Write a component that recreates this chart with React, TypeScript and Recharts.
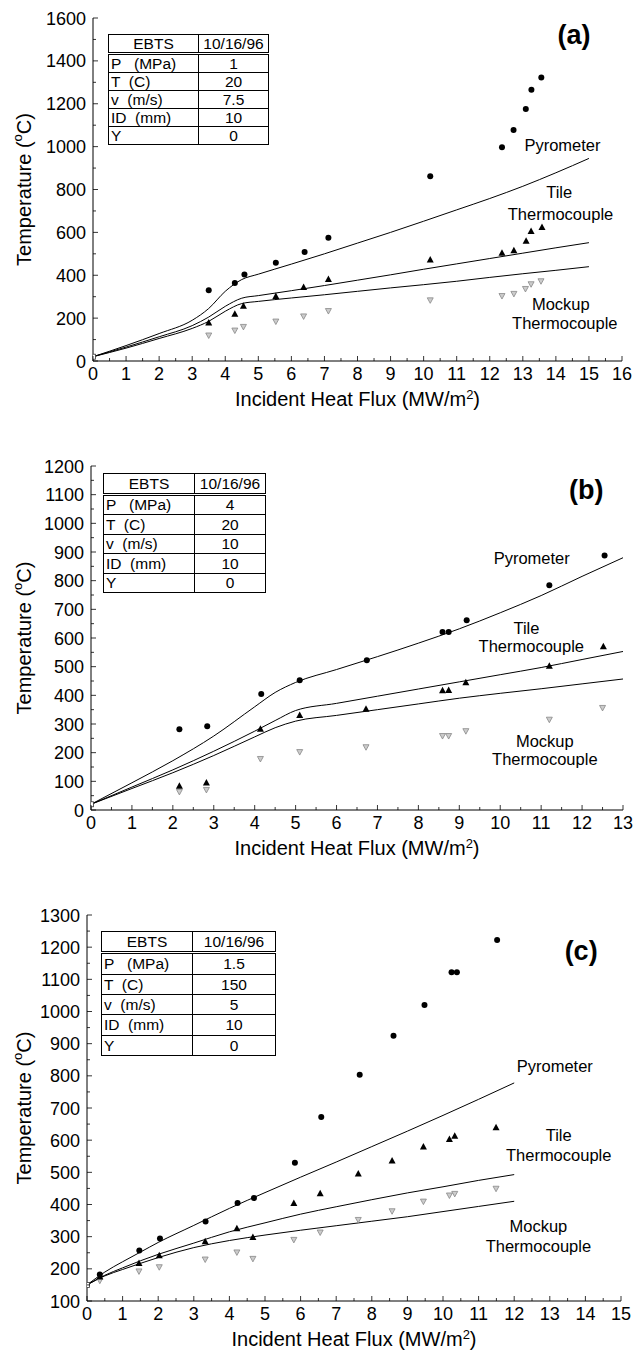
import React from "react";
import { ComposedChart, Line, Scatter, XAxis, YAxis, ReferenceDot } from "recharts";

// ---------- panel (a) ----------
const aFluxPyro = [3.5, 4.29, 4.58, 5.53, 6.4, 7.12, 10.2, 12.37, 12.72, 13.09, 13.26, 13.56];
const aPyro = [330, 364, 403, 458, 508, 575, 862, 997, 1078, 1176, 1265, 1322];
const aFluxTile = [3.5, 4.29, 4.55, 5.53, 6.37, 7.12, 10.2, 12.37, 12.73, 13.1, 13.25, 13.58];
const aTile = [180, 220, 258, 303, 345, 383, 473, 505, 517, 561, 606, 625];
const aFluxMock = [3.5, 4.29, 4.55, 5.53, 6.37, 7.12, 10.2, 12.37, 12.73, 13.08, 13.25, 13.55];
const aMock = [119, 142, 159, 184, 208, 233, 283, 303, 313, 336, 358, 372];
const aLineFlux = [0, 1, 2, 3, 3.5, 4, 4.5, 5, 6, 7, 8, 9, 10, 11, 12, 13, 14, 15];
const aPyroLine = [20, 72, 128, 190, 245, 325, 380, 405, 452, 500, 550, 600, 652, 705, 758, 815, 878, 945];
const aTileLine = [20, 65, 113, 165, 205, 255, 293, 305, 328, 352, 377, 402, 428, 453, 478, 503, 528, 552];
const aMockLine = [20, 60, 105, 152, 185, 232, 268, 278, 294, 309, 325, 341, 356, 372, 390, 407, 423, 440];
const aXTicks = [0, 1, 2, 3, 4, 5, 6, 7, 8, 9, 10, 11, 12, 13, 14, 15, 16];
const aYTicks = [0, 200, 400, 600, 800, 1000, 1200, 1400, 1600];
const aTable = [["EBTS", "10/16/96"], ["P   (MPa)", "1"], ["T  (C)", "20"], ["v  (m/s)", "7.5"], ["ID  (mm)", "10"], ["Y", "0"]];

// ---------- panel (b) ----------
const bFluxPyro = [2.16, 2.84, 4.16, 5.1, 6.74, 8.59, 8.74, 9.18, 11.2, 12.55];
const bPyro = [282, 292, 405, 453, 522, 621, 621, 662, 784, 888];
const bFluxTile = [2.16, 2.82, 4.14, 5.1, 6.72, 8.59, 8.74, 9.16, 11.2, 12.52];
const bTile = [85, 96, 283, 331, 353, 418, 419, 446, 503, 571];
const bFluxMock = [2.16, 2.82, 4.14, 5.1, 6.72, 8.59, 8.74, 9.16, 11.2, 12.5];
const bMock = [63, 70, 178, 202, 219, 258, 258, 275, 315, 356];
const bLineFlux = [0, 1, 2, 3, 4, 4.5, 5, 6, 7, 8, 9, 10, 11, 12, 13];
const bPyroLine = [20, 95, 172, 258, 360, 410, 445, 490, 535, 582, 632, 688, 748, 815, 880];
const bTileLine = [20, 80, 140, 205, 275, 312, 347, 372, 397, 422, 447, 472, 497, 525, 553];
const bMockLine = [20, 75, 130, 190, 255, 287, 310, 330, 350, 370, 390, 407, 423, 440, 457];
const bXTicks = [0, 1, 2, 3, 4, 5, 6, 7, 8, 9, 10, 11, 12, 13];
const bYTicks = [0, 100, 200, 300, 400, 500, 600, 700, 800, 900, 1000, 1100, 1200];
const bTable = [["EBTS", "10/16/96"], ["P   (MPa)", "4"], ["T  (C)", "20"], ["v  (m/s)", "10"], ["ID  (mm)", "10"], ["Y", "0"]];

// ---------- panel (c) ----------
const cFluxPyro = [0.36, 1.47, 2.05, 3.33, 4.23, 4.69, 5.84, 6.58, 7.66, 8.61, 9.48, 10.24, 10.39, 11.52];
const cPyro = [182, 257, 294, 347, 405, 420, 530, 672, 803, 925, 1020, 1122, 1122, 1222];
const cFluxTile = [0.36, 1.46, 2.03, 3.32, 4.21, 4.66, 5.81, 6.55, 7.62, 8.57, 9.45, 10.18, 10.33, 11.49];
const cTile = [176, 218, 242, 286, 326, 299, 405, 435, 496, 537, 580, 604, 614, 640];
const cFluxMock = [0.36, 1.46, 2.03, 3.32, 4.21, 4.66, 5.81, 6.55, 7.62, 8.57, 9.45, 10.18, 10.33, 11.49];
const cMock = [163, 192, 205, 229, 251, 231, 290, 313, 352, 379, 409, 428, 433, 449];
const cLineFlux = [0, 0.5, 1, 1.5, 2, 3, 4, 5, 6, 7, 8, 9, 10, 11, 12];
const cPyroLine = [150, 190, 222, 252, 282, 335, 388, 437, 485, 532, 580, 628, 677, 727, 778];
const cTileLine = [150, 180, 203, 225, 245, 280, 315, 343, 370, 393, 415, 436, 455, 475, 493];
const cMockLine = [150, 178, 198, 217, 235, 266, 288, 305, 320, 334, 348, 362, 378, 394, 410];
const cXTicks = [0, 1, 2, 3, 4, 5, 6, 7, 8, 9, 10, 11, 12, 13, 14, 15];
const cYTicks = [100, 200, 300, 400, 500, 600, 700, 800, 900, 1000, 1100, 1200, 1300];
const cTable = [["EBTS", "10/16/96"], ["P   (MPa)", "1.5"], ["T  (C)", "150"], ["v  (m/s)", "5"], ["ID  (mm)", "10"], ["Y", "0"]];

const FONT = "'Liberation Sans', Arial, sans-serif";

const zip = (xs: number[], ys: number[]) => xs.map((x, i) => ({ x, y: ys[i] }));
// major ticks plus the minor ones halfway between them
const withMinor = (t: number[]) => {
  const out: number[] = [];
  t.forEach((v, i) => {
    out.push(v);
    if (i < t.length - 1) out.push((v + t[i + 1]) / 2);
  });
  return out;
};

const Dot = ({ cx, cy }: any) => <circle cx={cx} cy={cy} r={3} fill="#000" />;
const Tri = ({ cx, cy }: any) => <path d={`M${cx},${cy - 3.5} L${cx + 3.5},${cy + 3} L${cx - 3.5},${cy + 3} Z`} fill="#000" />;
const InvTri = ({ cx, cy }: any) => (
  <path d={`M${cx},${cy + 3} L${cx + 3},${cy - 2.5} L${cx - 3},${cy - 2.5} Z`} fill="#ccc" stroke="#888" strokeWidth={0.8} />
);
const Square = ({ cx, cy }: any) => <rect x={cx - 2.5} y={cy - 2.5} width={5} height={5} fill="#fff" stroke="#333" strokeWidth={0.8} />;

const makeXTick = (majors: number[], bottom: boolean) => (props: any) => {
  const { x, y, payload } = props;
  const major = majors.includes(payload.value);
  const len = major ? 5 : 3;
  return (
    <g>
      <line x1={x} x2={x} y1={y} y2={bottom ? y - len : y + len} stroke="#000" strokeWidth={0.8} />
      {bottom && major && (
        <text x={x} y={y + 19} textAnchor="middle" fontSize={18} fontFamily={FONT} fill="#000">
          {payload.value}
        </text>
      )}
    </g>
  );
};

const makeYTick = (majors: number[], left: boolean) => (props: any) => {
  const { x, y, payload } = props;
  const major = majors.includes(payload.value);
  const len = major ? 5 : 3;
  return (
    <g>
      <line x1={x} x2={left ? x + len : x - len} y1={y} y2={y} stroke="#000" strokeWidth={0.8} />
      {left && major && (
        <text x={x - 7} y={y + 6.5} textAnchor="end" fontSize={18} fontFamily={FONT} fill="#000">
          {payload.value}
        </text>
      )}
    </g>
  );
};

const YTitle = ({ viewBox }: any) => {
  const cx = 24;
  const cy = viewBox.y + viewBox.height / 2;
  return (
    <text x={cx} y={cy} transform={`rotate(-90 ${cx} ${cy})`} textAnchor="middle" dominantBaseline="central" fontSize={20} fontFamily={FONT}>
      Temperature (<tspan dy={-7} fontSize={13}>o</tspan><tspan dy={7}>C)</tspan>
    </text>
  );
};

const XTitle = ({ viewBox }: any) => {
  const cx = viewBox.x + viewBox.width / 2;
  const cy = viewBox.y + 45;
  return (
    <text x={cx} y={cy} textAnchor="middle" fontSize={20} fontFamily={FONT}>
      Incident Heat Flux (MW/m<tspan dy={-7} fontSize={13}>2</tspan><tspan dy={7}>)</tspan>
    </text>
  );
};

const Note = ({ x, y, text, size = 16.5, bold = false }: any) => (
  <ReferenceDot
    x={x}
    y={y}
    r={0}
    fill="none"
    stroke="none"
    ifOverflow="visible"
    label={{ value: text, position: "center", fontSize: size, fontWeight: bold ? "bold" : "normal", fill: "#000", fontFamily: FONT }}
  />
);

const ParamTable = ({ rows, style, col1 }: any) => (
  <table
    style={{
      position: "absolute",
      borderCollapse: "collapse",
      fontFamily: FONT,
      fontSize: 15.5,
      lineHeight: 1,
      border: "1.5px solid #000",
      background: "#fff",
      ...style,
    }}
  >
    <tbody>
      {rows.map((r: string[], i: number) => (
        <tr key={i} style={{ borderBottom: i === 0 ? "3px double #000" : "1px solid #000" }}>
          <td style={{ width: col1, borderRight: "1px solid #000", padding: "0 2px", textAlign: i === 0 ? "center" : "left", whiteSpace: "pre" }}>{r[0]}</td>
          <td style={{ textAlign: "center", padding: 0 }}>{r[1]}</td>
        </tr>
      ))}
    </tbody>
  </table>
);

const Panel = ({ top, height, margin, yWidth, xHeight, xDomain, yDomain, xTicks, yTicks, pyro, tile, mock, lines, start, notes }: any) => {
  const xAll = withMinor(xTicks);
  const yAll = withMinor(yTicks);
  return (
    <div style={{ position: "absolute", left: 0, top }}>
      <ComposedChart width={634} height={height} margin={margin}>
        <XAxis
          type="number"
          dataKey="x"
          domain={xDomain}
          ticks={xAll}
          interval={0}
          allowDataOverflow
          height={xHeight}
          tickSize={0}
          tickMargin={0}
          tickLine={false}
          axisLine={{ stroke: "#000", strokeWidth: 1 }}
          tick={makeXTick(xTicks, true)}
          label={<XTitle />}
        />
        <XAxis
          xAxisId="top"
          orientation="top"
          type="number"
          dataKey="x"
          domain={xDomain}
          ticks={xAll}
          interval={0}
          allowDataOverflow
          height={0}
          tickSize={0}
          tickMargin={0}
          tickLine={false}
          axisLine={{ stroke: "#000", strokeWidth: 1 }}
          tick={makeXTick(xTicks, false)}
        />
        <YAxis
          type="number"
          domain={yDomain}
          ticks={yAll}
          interval={0}
          allowDataOverflow
          width={yWidth}
          tickSize={0}
          tickMargin={0}
          tickLine={false}
          axisLine={{ stroke: "#000", strokeWidth: 1 }}
          tick={makeYTick(yTicks, true)}
          label={<YTitle />}
        />
        <YAxis
          yAxisId="right"
          orientation="right"
          type="number"
          domain={yDomain}
          ticks={yAll}
          interval={0}
          allowDataOverflow
          width={0}
          tickSize={0}
          tickMargin={0}
          tickLine={false}
          axisLine={{ stroke: "#000", strokeWidth: 1 }}
          tick={makeYTick(yTicks, false)}
        />
        {lines.map((l: any, i: number) => (
          <Line key={i} data={l} dataKey="y" type="monotone" dot={false} stroke="#000" strokeWidth={1} isAnimationActive={false} />
        ))}
        <Scatter data={mock} dataKey="y" shape={<InvTri />} isAnimationActive={false} />
        <Scatter data={tile} dataKey="y" shape={<Tri />} isAnimationActive={false} />
        <Scatter data={pyro} dataKey="y" shape={<Dot />} isAnimationActive={false} />
        <Scatter data={start} dataKey="y" shape={<Square />} isAnimationActive={false} />
        {notes.map((n: any, i: number) => (
          <Note key={i} {...n} />
        ))}
      </ComposedChart>
    </div>
  );
};

export default function App() {
  return (
    <div style={{ position: "absolute", left: 0, top: 0, width: 634, height: 1357, background: "#fff", fontFamily: FONT }}>
      <Panel
        top={0}
        height={420}
        margin={{ top: 18, right: 12, left: 0, bottom: 0 }}
        yWidth={93}
        xHeight={59}
        xDomain={[0, 16]}
        yDomain={[0, 1600]}
        xTicks={aXTicks}
        yTicks={aYTicks}
        pyro={zip(aFluxPyro, aPyro)}
        tile={zip(aFluxTile, aTile)}
        mock={zip(aFluxMock, aMock)}
        lines={[zip(aLineFlux, aPyroLine), zip(aLineFlux, aTileLine), zip(aLineFlux, aMockLine)]}
        start={[{ x: 0, y: 20 }]}
        notes={[
          { x: 14.55, y: 1525, text: "(a)", size: 27, bold: true },
          { x: 14.2, y: 1009, text: "Pyrometer" },
          { x: 14.1, y: 788, text: "Tile" },
          { x: 14.14, y: 684, text: "Thermocouple" },
          { x: 14.15, y: 267, text: "Mockup" },
          { x: 14.27, y: 177, text: "Thermocouple" },
        ]}
      />
      <ParamTable rows={aTable} col1={85} style={{ left: 108, top: 34, width: 161, height: 111 }} />

      <Panel
        top={448}
        height={420}
        margin={{ top: 18, right: 11, left: 0, bottom: 0 }}
        yWidth={91}
        xHeight={58}
        xDomain={[0, 13]}
        yDomain={[0, 1200]}
        xTicks={bXTicks}
        yTicks={bYTicks}
        pyro={zip(bFluxPyro, bPyro)}
        tile={zip(bFluxTile, bTile)}
        mock={zip(bFluxMock, bMock)}
        lines={[zip(bLineFlux, bPyroLine), zip(bLineFlux, bTileLine), zip(bLineFlux, bMockLine)]}
        start={[{ x: 0, y: 20 }]}
        notes={[
          { x: 12.1, y: 1119, text: "(b)", size: 27, bold: true },
          { x: 10.77, y: 877, text: "Pyrometer" },
          { x: 10.64, y: 633, text: "Tile" },
          { x: 10.76, y: 571, text: "Thermocouple" },
          { x: 11.09, y: 241, text: "Mockup" },
          { x: 11.09, y: 177, text: "Thermocouple" },
        ]}
      />
      <ParamTable rows={bTable} col1={86} style={{ left: 103, top: 473, width: 163, height: 120 }} />

      <Panel
        top={897}
        height={460}
        margin={{ top: 18, right: 13, left: 0, bottom: 0 }}
        yWidth={87}
        xHeight={56}
        xDomain={[0, 15]}
        yDomain={[100, 1300]}
        xTicks={cXTicks}
        yTicks={cYTicks}
        pyro={zip(cFluxPyro, cPyro)}
        tile={zip(cFluxTile, cTile)}
        mock={zip(cFluxMock, cMock)}
        lines={[zip(cLineFlux, cPyroLine), zip(cLineFlux, cTileLine), zip(cLineFlux, cMockLine)]}
        start={[{ x: 0, y: 150 }]}
        notes={[
          { x: 13.88, y: 1189, text: "(c)", size: 27, bold: true },
          { x: 13.14, y: 831, text: "Pyrometer" },
          { x: 13.25, y: 616, text: "Tile" },
          { x: 13.25, y: 553, text: "Thermocouple" },
          { x: 12.68, y: 333, text: "Mockup" },
          { x: 12.68, y: 271, text: "Thermocouple" },
        ]}
      />
      <ParamTable rows={cTable} col1={86} style={{ left: 101, top: 931, width: 175, height: 125 }} />
    </div>
  );
}
